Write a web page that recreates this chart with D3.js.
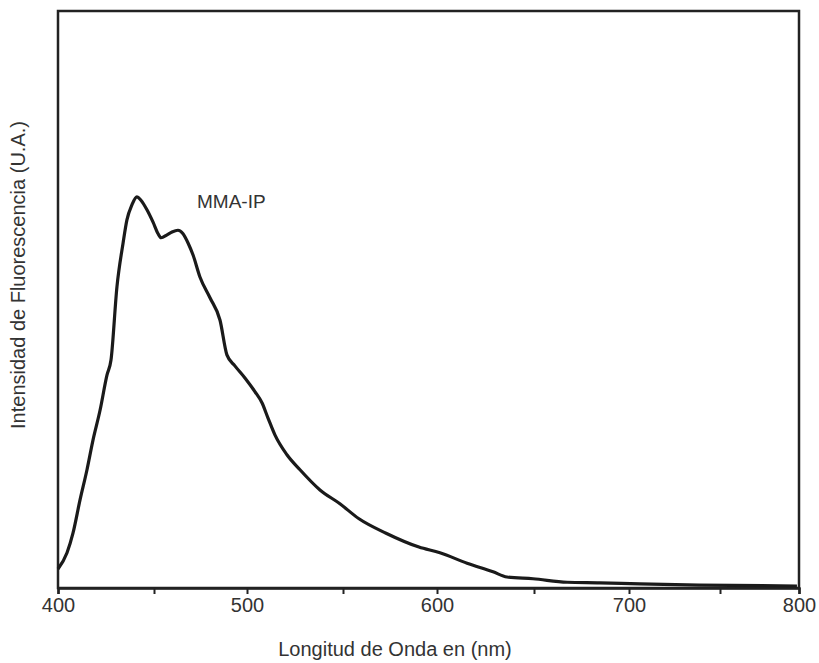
<!DOCTYPE html>
<html>
<head>
<meta charset="utf-8">
<script src="https://cdnjs.cloudflare.com/ajax/libs/d3/7.8.5/d3.min.js"></script>
<style>
  body { margin: 0; background: #fff; }
  text { font-family: "Liberation Sans", Arial, sans-serif; fill: #333; }
</style>
</head>
<body>
<div id="chart"></div>
<script>
// spectrum (nm, arbitrary units)
var wavelength = [400, 404.7, 407.8, 411.5, 415.1, 418.2, 421.9, 425.5, 427.6, 430.7,
  433.9, 435.9, 438.5, 441.1, 443.2, 446.4, 449.5, 452.2, 453.8, 457.0,
  459.7, 462.9, 465.6, 468.3, 471.0, 474.7, 480.1, 485.5, 489.2, 493.5,
  498.9, 504.2, 507.8, 510.9, 514.6, 520.8, 527.6, 538.0, 548.4, 558.5,
  572.9, 590.4, 601.5, 615.5, 628.9, 636.1, 649.5, 667.4, 684.7, 705.9,
  738.5, 798.7];
var intensity = [3.3, 6.1, 9.5, 15.3, 20.5, 25.6, 30.8, 36.9, 39.5, 52.2,
  59.8, 63.8, 66.4, 67.8, 67.2, 65.5, 63.4, 61.4, 60.7, 61.2,
  61.7, 62.0, 61.4, 59.8, 57.7, 53.9, 50.3, 46.4, 40.4, 38.5,
  36.4, 34.0, 32.1, 29.5, 26.5, 23.1, 20.5, 17.0, 14.6, 12.0,
  9.5, 7.1, 6.1, 4.3, 2.8, 1.9, 1.6, 1.0, 0.9, 0.7,
  0.5, 0.35];
var xTicks = [400, 450, 500, 550, 600, 650, 700, 750, 800];
var seriesLabel = "MMA-IP";

var W = 819, H = 663;
var margin = {top: 11, right: 20, bottom: 75, left: 57};

var svg = d3.select("#chart").append("svg")
  .attr("width", W).attr("height", H);

// the scanned axis is slightly uneven, so the scale follows its tick marks
var x = d3.scaleLinear()
  .domain(xTicks)
  .range([58, 154, 247, 343, 437, 534, 629, 720, 799]);

var y = d3.scaleLinear()
  .domain([0, 100])
  .range([H - margin.bottom, margin.top]);

// frame
svg.append("rect")
  .attr("x", x(400)).attr("y", y(100))
  .attr("width", x(800) - x(400))
  .attr("height", y(0) - y(100))
  .attr("fill", "none")
  .attr("stroke", "#222")
  .attr("stroke-width", 2.5);

// bottom axis
var xAxis = svg.append("g")
  .attr("transform", "translate(0," + y(0) + ")")
  .call(d3.axisBottom(x)
    .tickValues(xTicks)
    .tickSize(6)
    .tickFormat(function(d) { return d % 100 === 0 ? d : ""; }));
xAxis.select(".domain").attr("stroke", "#222").attr("stroke-width", 2.5);
xAxis.selectAll(".tick line").attr("stroke", "#222").attr("stroke-width", 2);
xAxis.selectAll(".tick text")
  .attr("y", 10)
  .attr("dy", "0.71em")
  .style("font-size", "20px")
  .style("font-family", "'Liberation Sans', Arial, sans-serif")
  .attr("fill", "#333");

// curve
var pts = wavelength.map(function(w, i) { return [w, intensity[i]]; });
svg.append("path")
  .datum(pts)
  .attr("fill", "none")
  .attr("stroke", "#1a1a1a")
  .attr("stroke-width", 3.2)
  .attr("stroke-linejoin", "round")
  .attr("d", d3.line()
    .curve(d3.curveMonotoneX)
    .x(function(d) { return x(d[0]); })
    .y(function(d) { return y(d[1]); }));

// series label
svg.append("text")
  .attr("x", 197).attr("y", 208)
  .style("font-size", "19px")
  .text(seriesLabel);

// axis titles
svg.append("text")
  .attr("x", 395).attr("y", 656)
  .attr("text-anchor", "middle")
  .style("font-size", "20px")
  .text("Longitud de Onda en (nm)");

svg.append("text")
  .attr("transform", "translate(25," + 275 + ") rotate(-90)")
  .attr("text-anchor", "middle")
  .style("font-size", "20px")
  .text("Intensidad de Fluorescencia (U.A.)");
</script>
</body>
</html>
